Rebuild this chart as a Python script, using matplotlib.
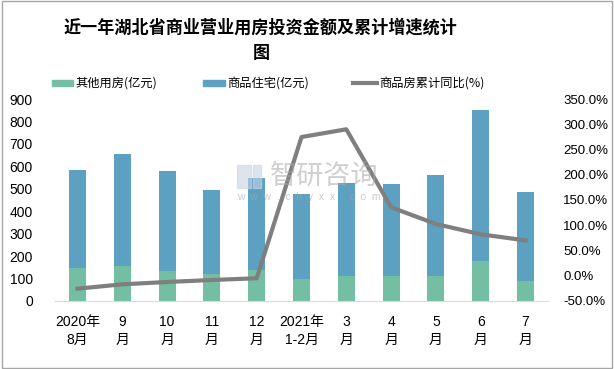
import matplotlib
matplotlib.use("Agg")
import matplotlib.pyplot as plt
from matplotlib.patches import Rectangle
from matplotlib.lines import Line2D
import numpy as np

plt.rcParams['font.family'] = ['Liberation Sans', 'Noto Sans CJK SC', 'DejaVu Sans']

categories = ["2020年\n8月", "9\n月", "10\n月", "11\n月", "12\n月", "2021年\n1-2月",
              "3\n月", "4\n月", "5\n月", "6\n月", "7\n月"]
other_use = [148, 157, 134, 122, 138, 97, 110, 110, 110, 178, 89]
total_invest = [585, 655, 579, 495, 548, 477, 526, 521, 561, 851, 486]
residential = [t - o for t, o in zip(total_invest, other_use)]
yoy_growth = [-25.6, -17.0, -12.4, -8.4, -5.0, 274.7, 290.0, 135.5, 102.5, 82.0, 70.0]
legend_labels = ["其他用房(亿元)", "商品住宅(亿元)", "商品房累计同比(%)"]

green = '#74BFA4'
blue = '#5DA1C2'
gray = '#7F7F7F'

W, H = 614, 369
fig = plt.figure(figsize=(W / 100, H / 100), dpi=100)
fig.patches.append(Rectangle((0.003, 0.003), 0.994, 0.994, transform=fig.transFigure,
                             fill=False, edgecolor='#A6A6A6', linewidth=1.0))
ax = fig.add_axes([0.0896, 0.1843, 0.8029, 0.5474])
x = np.arange(len(categories))
w = 0.38
ax.bar(x, other_use, w, color=green, zorder=2)
ax.bar(x, residential, w, bottom=other_use, color=blue, zorder=2)
ax.set_xlim(-0.5, len(categories) - 0.5)
ax.set_ylim(0, 900)
ax.set_yticks(range(0, 901, 100))
for s in ['top', 'right', 'left']:
    ax.spines[s].set_visible(False)
ax.spines['bottom'].set_color('#D9D9D9')
ax.tick_params(axis='y', length=0, labelsize=10, pad=16)
ax.tick_params(axis='x', length=0, labelsize=10, pad=10)
ax.set_xticks(x)
ax.set_xticklabels(categories, linespacing=1.35)

ax2 = ax.twinx()
ax2.plot(x, yoy_growth, color=gray, linewidth=3, zorder=3)
ax2.set_ylim(-50, 350)
ax2.set_yticks(range(-50, 351, 50))
ax2.set_yticklabels([f"{v:.1f}%" for v in range(-50, 351, 50)])
for s in ['top', 'right', 'left', 'bottom']:
    ax2.spines[s].set_visible(False)
ax2.tick_params(axis='y', length=0, labelsize=9.5, pad=11)

# watermark
def fx(px):
    return px / W

def fy(py):
    return 1 - py / H

fig.text(fx(270), fy(176), "智研咨询", fontsize=19.5, color='#A8A8A8', alpha=0.55,
         family=['Noto Sans CJK SC'], va='center', ha='left', zorder=5)
fig.text(fx(237), fy(197), "w  w  w  .  c  h  y  x  x  .  c  o  m", fontsize=7.5, color='#A8A8A8',
         alpha=0.6, va='center', ha='left', zorder=5)
fig.patches.append(Rectangle((fx(237), fy(188)), fx(14), 23 / H, transform=fig.transFigure,
                             fill=True, color='#C9D3E2', alpha=0.6, zorder=5))
fig.patches.append(Rectangle((fx(253), fy(188)), fx(8), 23 / H, transform=fig.transFigure,
                             fill=True, color='#C9D3E2', alpha=0.6, zorder=5))

fig.text(fx(261), fy(40), "近一年湖北省商业营业用房投资金额及累计增速统计\n图", ha='center', va='center',
         fontsize=12.3, fontweight='bold', family=['Noto Sans CJK SC'], linespacing=1.5)

# legend (manual placement)
ly = 83
fig.patches.append(Rectangle((fx(52), fy(ly + 3)), fx(21), 6 / H, transform=fig.transFigure,
                             color=green))
fig.text(fx(75), fy(ly), legend_labels[0], fontsize=8.8, va='center', ha='left',
         family=['Noto Sans CJK SC'])
fig.patches.append(Rectangle((fx(203), fy(ly + 3)), fx(22), 6 / H, transform=fig.transFigure,
                             color=blue))
fig.text(fx(227), fy(ly), legend_labels[1], fontsize=8.8, va='center', ha='left',
         family=['Noto Sans CJK SC'])
fig.lines.append(Line2D([fx(353), fx(377)], [fy(ly), fy(ly)], transform=fig.transFigure,
                        color=gray, linewidth=3))
fig.text(fx(379), fy(ly), legend_labels[2], fontsize=8.8, va='center', ha='left',
         family=['Noto Sans CJK SC'])

fig.savefig("out.png", dpi=100)
